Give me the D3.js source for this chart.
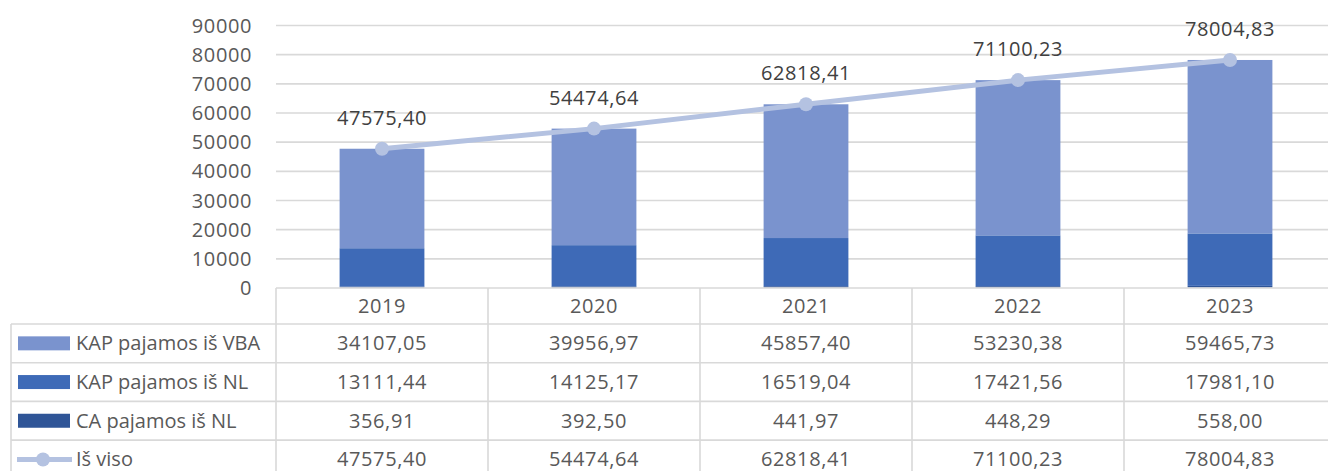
<!DOCTYPE html>
<html>
<head>
<meta charset="utf-8">
<script src="https://cdn.jsdelivr.net/npm/d3@7"></script>
<style>
  html, body { margin: 0; padding: 0; background: #fff; }
  svg { display: block; }
  text { font-family: "Open Sans", "Noto Sans", sans-serif; }
</style>
</head>
<body>
<svg id="chart" width="1328" height="471"></svg>
<script>
// Income by source, 2019–2023
const years = ["2019", "2020", "2021", "2022", "2023"];
const kapVba = [34107.05, 39956.97, 45857.40, 53230.38, 59465.73];
const kapNl  = [13111.44, 14125.17, 16519.04, 17421.56, 17981.10];
const caNl   = [356.91, 392.50, 441.97, 448.29, 558.00];
const total  = [47575.40, 54474.64, 62818.41, 71100.23, 78004.83];
const yTicks = [0, 10000, 20000, 30000, 40000, 50000, 60000, 70000, 80000, 90000];

const seriesNames = ["KAP pajamos iš VBA", "KAP pajamos iš NL", "CA pajamos iš NL", "Iš viso"];
const colors = {
  "KAP pajamos iš VBA": "#7a93ce",
  "KAP pajamos iš NL": "#3e6ab7",
  "CA pajamos iš NL": "#2f5597",
  "Iš viso": "#b4c2e1"
};

const fmt = v => v.toFixed(2).replace(".", ",");

const svg = d3.select("#chart");
const plotLeft = 276, plotRight = 1336, plotTop = 25, plotBottom = 287.5;
const gridColor = "#d9d9d9";
const textColor = "#595959";

const x = d3.scaleBand().domain(years).range([plotLeft, plotRight]).paddingInner(0).paddingOuter(0);
const y = d3.scaleLinear().domain([0, 90000]).range([plotBottom, plotTop]);

// gridlines
svg.append("g")
  .attr("transform", `translate(${plotLeft},0)`)
  .call(d3.axisLeft(y).tickValues(yTicks.slice(1)).tickSize(-(plotRight - plotLeft)).tickFormat(""))
  .call(g => g.select(".domain").remove())
  .call(g => g.selectAll("line").attr("stroke", gridColor).attr("stroke-width", 1.6));

// y-axis labels
svg.append("g")
  .attr("transform", `translate(${plotLeft},0)`)
  .call(d3.axisLeft(y).tickValues(yTicks).tickSize(0).tickPadding(24).tickFormat(d => String(d)))
  .call(g => g.select(".domain").remove())
  .call(g => g.selectAll("text")
    .attr("fill", textColor)
    .style("font-size", "20px")
    .style("letter-spacing", "0.6px")
    .attr("dy", "0.35em"));

// stacked bars: CA at the bottom, then KAP NL, then KAP VBA
const rows = years.map((yr, i) => ({ year: yr, ca: caNl[i], nl: kapNl[i], vba: kapVba[i] }));
const stack = d3.stack().keys(["ca", "nl", "vba"]);
const stacked = stack(rows);
const keyColor = { ca: colors["CA pajamos iš NL"], nl: colors["KAP pajamos iš NL"], vba: colors["KAP pajamos iš VBA"] };
const barW = x.bandwidth() * 0.4;

svg.append("g").selectAll("g")
  .data(stacked)
  .join("g")
    .attr("fill", d => keyColor[d.key])
  .selectAll("rect")
  .data(d => d)
  .join("rect")
    .attr("x", d => x(d.data.year) + (x.bandwidth() - barW) / 2)
    .attr("width", barW)
    .attr("y", d => y(d[1]))
    .attr("height", d => y(d[0]) - y(d[1]));

// total line
const cx = yr => x(yr) + x.bandwidth() / 2;
const line = d3.line().x((d, i) => cx(years[i])).y(d => y(d));
svg.append("path")
  .datum(total)
  .attr("d", line)
  .attr("fill", "none")
  .attr("stroke", colors["Iš viso"])
  .attr("stroke-width", 5);

svg.append("g").selectAll("circle")
  .data(total)
  .join("circle")
    .attr("cx", (d, i) => cx(years[i]))
    .attr("cy", d => y(d))
    .attr("r", 7)
    .attr("fill", colors["Iš viso"]);

svg.append("g").selectAll("text")
  .data(total)
  .join("text")
    .attr("x", (d, i) => cx(years[i]))
    .attr("y", d => y(d) - 24)
    .attr("text-anchor", "middle")
    .attr("fill", "#404040")
    .style("font-size", "20px")
    .style("letter-spacing", "0.6px")
    .text(d => fmt(d));

// data table
const legendLeft = 11;
const headTop = 288, headBottom = 324, rowH = 38.7;
const tableRows = [kapVba, kapNl, caNl, total];
const rowTop = i => headBottom + i * rowH;
const tableBottom = rowTop(tableRows.length);
const border = svg.append("g").attr("stroke", gridColor).attr("stroke-width", 1.6);

// top of header row (axis line)
border.append("line").attr("x1", plotLeft).attr("x2", plotRight).attr("y1", headTop).attr("y2", headTop);
// column separators
years.concat(["end"]).forEach((yr, i) => {
  const xx = plotLeft + i * x.bandwidth();
  border.append("line").attr("x1", xx).attr("x2", xx).attr("y1", headTop).attr("y2", tableBottom);
});
// legend column left edge
border.append("line").attr("x1", legendLeft).attr("x2", legendLeft).attr("y1", headBottom).attr("y2", tableBottom);
// row separators
d3.range(tableRows.length + 1).forEach(i => {
  border.append("line").attr("x1", legendLeft).attr("x2", plotRight).attr("y1", rowTop(i)).attr("y2", rowTop(i));
});

// header: years
svg.append("g").selectAll("text")
  .data(years)
  .join("text")
    .attr("x", d => cx(d))
    .attr("y", (headTop + headBottom) / 2)
    .attr("dy", "0.35em")
    .attr("text-anchor", "middle")
    .attr("fill", textColor)
    .style("font-size", "20px")
    .style("letter-spacing", "0.6px")
    .text(d => d);

// values
tableRows.forEach((vals, r) => {
  svg.append("g").selectAll("text")
    .data(vals)
    .join("text")
      .attr("x", (d, i) => cx(years[i]))
      .attr("y", rowTop(r) + rowH / 2)
      .attr("dy", "0.35em")
      .attr("text-anchor", "middle")
      .attr("fill", textColor)
      .style("font-size", "20px")
      .style("letter-spacing", "0.6px")
      .text(d => fmt(d));
});

// legend keys
seriesNames.forEach((name, r) => {
  const cy = rowTop(r) + rowH / 2;
  if (name === "Iš viso") {
    svg.append("line").attr("x1", 17).attr("x2", 72).attr("y1", cy).attr("y2", cy)
      .attr("stroke", colors[name]).attr("stroke-width", 5);
    svg.append("circle").attr("cx", 43).attr("cy", cy).attr("r", 7).attr("fill", colors[name]);
  } else {
    svg.append("rect").attr("x", 18).attr("y", cy - 7).attr("width", 52).attr("height", 14)
      .attr("fill", colors[name]);
  }
  svg.append("text")
    .attr("x", 76)
    .attr("y", cy)
    .attr("dy", "0.35em")
    .attr("fill", textColor)
    .style("font-size", "20px")
    .style("letter-spacing", "0px")
    .text(name);
});
</script>
</body>
</html>
